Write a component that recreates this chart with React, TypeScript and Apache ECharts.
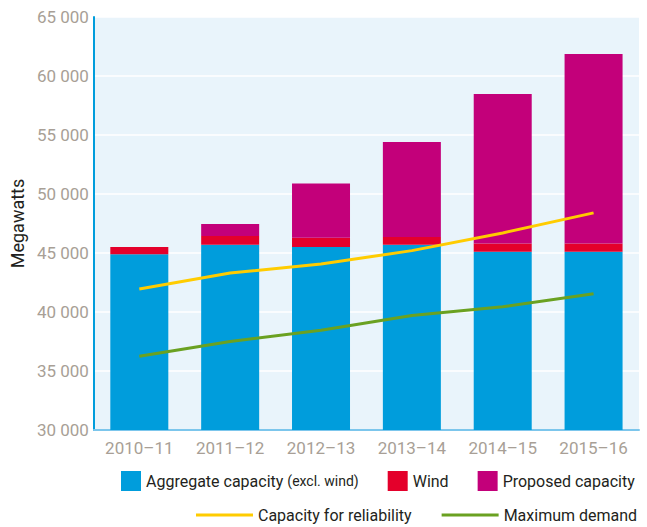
import React, { useEffect, useRef } from "react";
import * as echarts from "echarts";

const categories = ["2010–11", "2011–12", "2012–13", "2013–14", "2014–15", "2015–16"];
const aggregate = [44900, 45700, 45500, 45700, 45100, 45100];
const wind = [600, 750, 800, 650, 700, 700];
const proposed = [0, 1000, 4600, 8050, 12670, 16060];
const reliability = [41950, 43300, 44070, 45200, 46700, 48400];
const maxDemand = [36250, 37500, 38450, 39700, 40450, 41550];
const yTicks = { min: 30000, max: 65000, interval: 5000 };

const FONT = "Roboto";
const GREY = "#a89f96";

function fmt(v: number) {
  const s = String(Math.round(v));
  return s.replace(/\B(?=(\d{3})+(?!\d))/g, " ");
}

export default function App() {
  const ref = useRef<HTMLDivElement>(null);
  useEffect(() => {
    if (!ref.current) return;
    const chart = echarts.init(ref.current, undefined, { renderer: "svg" });
    chart.setOption({
      animation: false,
      textStyle: { fontFamily: FONT },
      grid: {
        left: 91,
        top: 17,
        right: 8,
        bottom: 97,
        show: true,
        backgroundColor: "#e9f4fb",
        borderWidth: 0,
      },
      legend: [
        {
          left: 121,
          top: 471,
          padding: 0,
          itemWidth: 20,
          itemHeight: 20,
          itemGap: 29,
          icon: "rect",
          textStyle: {
            fontFamily: FONT,
            fontSize: 16,
            color: "#231f20",
            rich: {
              s: { fontSize: 14, color: "#231f20", fontFamily: FONT },
            },
          },
          formatter: (name: string) =>
            name === "Aggregate capacity" ? "Aggregate capacity {s|(excl. wind)}" : name,
          data: ["Aggregate capacity", "Wind", "Proposed capacity"],
        },
        {
          left: 196,
          top: 507,
          padding: 0,
          itemWidth: 57,
          itemHeight: 3,
          itemGap: 30,
          icon: "rect",
          textStyle: { fontFamily: FONT, fontSize: 16, color: "#231f20" },
          data: ["Capacity for reliability", "Maximum demand"],
        },
      ],
      xAxis: {
        type: "category",
        data: categories,
        axisLine: { show: true, lineStyle: { color: "#7cc6ec", width: 2 } },
        axisTick: { show: false },
        axisLabel: { color: GREY, fontSize: 17, margin: 9, fontFamily: FONT },
      },
      yAxis: {
        type: "value",
        min: yTicks.min,
        max: yTicks.max,
        interval: yTicks.interval,
        name: "Megawatts",
        nameLocation: "middle",
        nameGap: 62,
        nameTextStyle: { color: "#231f20", fontSize: 18, fontFamily: FONT },
        axisLine: { show: true, lineStyle: { color: "#009ddc", width: 2 } },
        axisTick: { show: false },
        axisLabel: { color: GREY, fontSize: 17, margin: 5, fontFamily: FONT, formatter: fmt },
        splitLine: { show: true, lineStyle: { color: "#ffffff", width: 1.5 } },
      },
      series: [
        {
          name: "Aggregate capacity",
          type: "bar",
          stack: "cap",
          barWidth: 58,
          data: aggregate,
          itemStyle: { color: "#009ddc" },
        },
        {
          name: "Wind",
          type: "bar",
          stack: "cap",
          data: wind,
          itemStyle: { color: "#e4002b" },
        },
        {
          name: "Proposed capacity",
          type: "bar",
          stack: "cap",
          data: proposed,
          itemStyle: { color: "#c3007a" },
        },
        {
          name: "Capacity for reliability",
          type: "line",
          data: reliability,
          symbol: "none",
          lineStyle: { color: "#ffcc00", width: 3 },
          itemStyle: { color: "#ffcc00" },
          z: 5,
        },
        {
          name: "Maximum demand",
          type: "line",
          data: maxDemand,
          symbol: "none",
          lineStyle: { color: "#6aa121", width: 3 },
          itemStyle: { color: "#6aa121" },
          z: 5,
        },
      ],
    });
    return () => chart.dispose();
  }, []);
  return <div ref={ref} style={{ width: 647, height: 527, position: "absolute", left: 0, top: 0 }} />;
}
